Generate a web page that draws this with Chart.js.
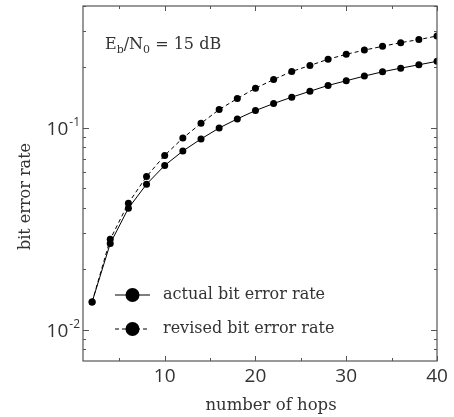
<!DOCTYPE html>
<html><head><meta charset="utf-8">
<script src="https://cdn.jsdelivr.net/npm/chart.js@4/dist/chart.umd.min.js"></script>
<style>html,body{margin:0;padding:0;background:#fff}#wrap{width:454px;height:417px}</style>
</head><body><div id="wrap"><canvas id="c" width="454" height="417"></canvas></div>
<script>
const hops = [2,4,6,8,10,12,14,16,18,20,22,24,26,28,30,32,34,36,38,40];
const actualBER = [0.0137,0.0267,0.0399,0.0525,0.0650,0.0766,0.0879,0.0996,0.1105,0.1215,0.1316,0.1415,0.1514,0.1618,0.1706,0.1800,0.1890,0.1970,0.2047,0.2130];
const revisedBER = [0.0137,0.0280,0.0423,0.0573,0.0729,0.0888,0.1050,0.1229,0.1393,0.1567,0.1730,0.1897,0.2030,0.2180,0.2306,0.2420,0.2526,0.2635,0.2727,0.2843];
const seriesNames = ['actual bit error rate','revised bit error rate'];
const xTitle = 'number of hops';
const yTitle = 'bit error rate';
const xMajorTicks = [10,20,30,40];
const xMinorTicks = [5,15,25,35];
const yMajorTicks = [0.01,0.1];
const yMajorLabels = [['10','-2'],['10','-1']];
const yMinorTicks = [0.008,0.009,0.02,0.03,0.04,0.05,0.06,0.07,0.08,0.09,0.2,0.3,0.4];
const annotation = {main1:'E', sub1:'b', main2:'/N', sub2:'0', main3:' = 15 dB'};

const SERIF = '"DejaVu Serif", serif';
const SANS = '"Open Sans", "DejaVu Sans", sans-serif';
const TXT = '#333';

const decorPlugin = {
  id: 'decor',
  afterDraw(chart) {
    const ctx = chart.ctx, a = chart.chartArea;
    const xs = chart.scales.x, ys = chart.scales.y;
    ctx.save();
    // frame
    ctx.strokeStyle = '#555'; ctx.lineWidth = 1.2;
    ctx.strokeRect(a.left, a.top, a.right - a.left, a.bottom - a.top);
    // ticks
    ctx.lineWidth = 1;
    const tick = (x1,y1,x2,y2)=>{ctx.beginPath();ctx.moveTo(x1,y1);ctx.lineTo(x2,y2);ctx.stroke();};
    xMajorTicks.forEach(v=>{const p=Math.round(xs.getPixelForValue(v))+0.5; tick(p,a.bottom,p,a.bottom-5); tick(p,a.top,p,a.top+5);});
    xMinorTicks.forEach(v=>{const p=Math.round(xs.getPixelForValue(v))+0.5; tick(p,a.bottom,p,a.bottom-3); tick(p,a.top,p,a.top+3);});
    yMajorTicks.forEach(v=>{const p=Math.round(ys.getPixelForValue(v))+0.5; tick(a.left,p,a.left+6,p); tick(a.right,p,a.right-6,p);});
    yMinorTicks.forEach(v=>{const p=Math.round(ys.getPixelForValue(v))+0.5; tick(a.left,p,a.left+3,p); tick(a.right,p,a.right-3,p);});
    // y tick labels with superscripts
    ctx.fillStyle = TXT; ctx.textBaseline = 'alphabetic';
    yMajorTicks.forEach((v,i)=>{
      const p = ys.getPixelForValue(v);
      const [base, exp] = yMajorLabels[i];
      ctx.font = '12px ' + SANS;
      const ew = ctx.measureText(exp).width;
      ctx.font = '19px ' + SANS;
      const bw = ctx.measureText(base).width;
      const right = a.left - 3;
      ctx.textAlign = 'left';
      ctx.fillText(base, right - ew - bw - 1, p + 7);
      ctx.font = '12px ' + SANS;
      ctx.fillText(exp, right - ew, p - 2);
    });
    // axis titles
    ctx.fillStyle = TXT; ctx.textAlign = 'center'; ctx.textBaseline = 'alphabetic';
    ctx.font = '16.5px ' + SERIF;
    ctx.fillText(xTitle, (a.left + a.right) / 2 + 11, 410);
    ctx.save();
    ctx.translate(30, (a.top + a.bottom) / 2 + 13);
    ctx.rotate(-Math.PI / 2);
    ctx.font = '16px ' + SERIF;
    ctx.fillText(yTitle, 0, 0);
    ctx.restore();
    // annotation
    ctx.fillStyle = TXT; ctx.textAlign = 'left';
    let x = a.left + 22; const by = 49;
    const big = '16px ' + SERIF, small = '11px ' + SERIF;
    const seg = (t,f,dy)=>{ctx.font=f; ctx.fillText(t,x,by+dy); x += ctx.measureText(t).width;};
    seg(annotation.main1,big,0); seg(annotation.sub1,small,4); seg(annotation.main2,big,0); seg(annotation.sub2,small,4); seg(annotation.main3,big,0);
    // legend
    const rows = [{y: 295, ds: chart.data.datasets[0]}, {y: 329, ds: chart.data.datasets[1]}];
    rows.forEach((r,i)=>{
      ctx.strokeStyle = '#000'; ctx.lineWidth = 1.2;
      ctx.setLineDash(r.ds.borderDash || []);
      tick(115, r.y, 150, r.y);
      ctx.setLineDash([]);
      ctx.fillStyle = '#000';
      ctx.beginPath(); ctx.arc(132.5, r.y, 7, 0, Math.PI*2); ctx.fill();
      ctx.fillStyle = TXT; ctx.font = '16px ' + SERIF; ctx.textBaseline = 'middle';
      ctx.fillText(seriesNames[i], 163, r.y);
      ctx.textBaseline = 'alphabetic';
    });
    ctx.restore();
  }
};

new Chart(document.getElementById('c'), {
  type: 'line',
  data: {
    datasets: [
      {label: seriesNames[0], data: hops.map((h,i)=>({x:h,y:actualBER[i]})), borderColor:'#000', backgroundColor:'#000', borderWidth:1, pointRadius:3.5, pointBackgroundColor:'#000', pointBorderWidth:0, tension:0},
      {label: seriesNames[1], data: hops.map((h,i)=>({x:h,y:revisedBER[i]})), borderColor:'#000', backgroundColor:'#000', borderWidth:1, borderDash:[4,3], pointRadius:3.5, pointBackgroundColor:'#000', pointBorderWidth:0, tension:0}
    ]
  },
  options: {
    responsive: false, animation: false, devicePixelRatio: 1,
    layout: {padding: {top: 6, right: 17, left: 0, bottom: 0}},
    plugins: {legend: {display: false}, tooltip: {enabled: false}},
    scales: {
      x: {
        type: 'linear', min: 1, max: 40,
        afterBuildTicks: s => { s.ticks = xMajorTicks.map(v=>({value:v})); },
        afterFit: s => { s.height = 56; },
        grid: {display: false, drawTicks: false},
        border: {display: false},
        ticks: {color: TXT, font: {family: SANS, size: 19}, padding: 4, maxRotation: 0},
        title: {display: false}
      },
      y: {
        type: 'logarithmic', min: 0.007, max: 0.4,
        afterFit: s => { s.width = 83; },
        grid: {display: false, drawTicks: false},
        border: {display: false},
        ticks: {display: false},
        title: {display: false}
      }
    }
  },
  plugins: [decorPlugin]
});
</script></body></html>
